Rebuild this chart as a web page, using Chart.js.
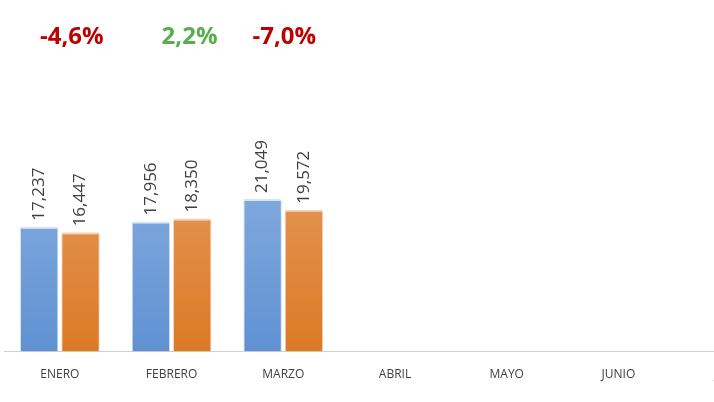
<!DOCTYPE html>
<html>
<head>
<meta charset="utf-8">
<script src="https://cdn.jsdelivr.net/npm/chart.js@4"></script>
<style>
  body { margin: 0; overflow: hidden; background: #fff; }
  #wrap { position: absolute; left: 0; top: 0; width: 786px; height: 402px; }
</style>
</head>
<body>
<div id="wrap"><canvas id="ventas-canvas"></canvas></div>
<script>
// monthly comparison chart
const months = ['ENERO', 'FEBRERO', 'MARZO', 'ABRIL', 'MAYO', 'JUNIO', 'JULIO']
const prevYear = [17237, 17956, 21049, null, null, null, null]
const currYear = [16447, 18350, 19572, null, null, null, null]
const changes = ['-4,6%', '2,2%', '-7,0%']

function barGradient(ctx, area, top, bottom) {
  const g = ctx.createLinearGradient(0, area.top, 0, area.bottom)
  g.addColorStop(0, top)
  g.addColorStop(1, bottom)
  return g
}

const labelsPlugin = {
  id: 'labels',
  afterDatasetsDraw(chart) {
    const ctx = chart.ctx
    ctx.save()
    chart.data.datasets.forEach((ds, i) => {
      chart.getDatasetMeta(i).data.forEach((bar, j) => {
        if (ds.data[j] == null) return
        ctx.save()
        ctx.translate(bar.x, bar.y - 6)
        ctx.rotate(-Math.PI / 2)
        ctx.fillStyle = '#404040'
        ctx.font = '17px "Open Sans", sans-serif'
        ctx.textAlign = 'left'
        ctx.textBaseline = 'middle'
        ctx.fillText(ds.data[j].toLocaleString('en-US'), 0, 0)
        ctx.restore()
      })
    })
    // percent change over each month
    const xs = chart.scales.x
    const shift = [12, 18, 1]
    changes.forEach((c, j) => {
      ctx.font = 'bold 24px "Open Sans", sans-serif'
      ctx.textAlign = 'center'
      ctx.textBaseline = 'middle'
      ctx.fillStyle = c.startsWith('-') ? '#c00000' : '#5aad4e'
      ctx.fillText(c, xs.getPixelForValue(j) + shift[j], 37)
    })
    ctx.restore()
  },
}

const ctx = document.getElementById('ventas-canvas').getContext('2d')
const chart = new Chart(ctx, {
  type: 'bar',
  data: {
    labels: months,
    datasets: [
      {
        data: prevYear,
        backgroundColor: (c) => c.chart.chartArea ? barGradient(c.chart.ctx, c.chart.chartArea, '#a9c6ea', '#5f91d2') : '#8fb3e2',
        borderColor: '#d8e4f4',
        borderWidth: { top: 2, left: 1, right: 1, bottom: 0 },
        borderRadius: 2,
      },
      {
        data: currYear,
        backgroundColor: (c) => c.chart.chartArea ? barGradient(c.chart.ctx, c.chart.chartArea, '#ecb387', '#dc7a25') : '#e39a5c',
        borderColor: '#f3d3b8',
        borderWidth: { top: 2, left: 1, right: 1, bottom: 0 },
        borderRadius: 2,
      },
    ],
  },
  options: {
    responsive: true,
    maintainAspectRatio: false,
    animation: false,
    layout: { padding: { left: 4, right: 0, top: 0, bottom: 12 } },
    datasets: { bar: { categoryPercentage: 0.74, barPercentage: 0.93 } },
    scales: {
      x: {
        grid: { display: false },
        border: { color: '#d0d0d0' },
        ticks: { color: '#404040', autoSkip: false, maxRotation: 0, font: { size: 12, family: '"Open Sans", sans-serif' }, padding: 8 },
      },
      y: {
        display: false,
        min: 0,
        max: 48500,
      },
    },
    plugins: {
      legend: { display: false },
      tooltip: { enabled: false },
    },
  },
  plugins: [labelsPlugin],
})
</script>
</body>
</html>
